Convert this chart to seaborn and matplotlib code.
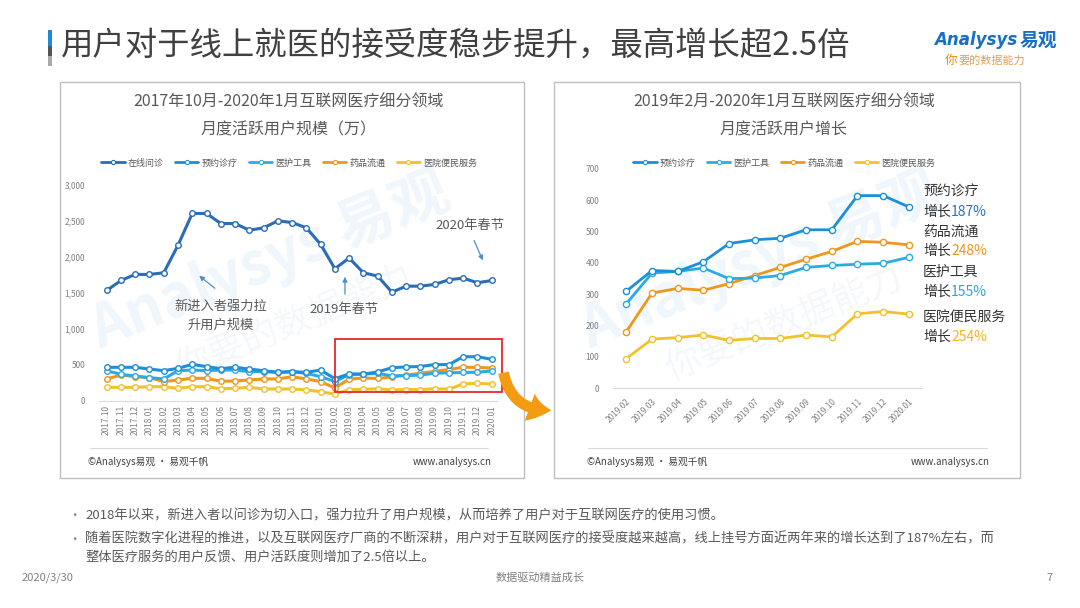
import numpy as np
import pandas as pd
import matplotlib
matplotlib.use("Agg")
import matplotlib.pyplot as plt
from matplotlib.patches import Rectangle, FancyArrowPatch
from matplotlib.lines import Line2D
from matplotlib.ticker import FuncFormatter
import seaborn as sns

sns.set_theme(style="white")
plt.rcParams["font.family"] = ["Noto Sans CJK SC", "DejaVu Sans"]
plt.rcParams["axes.unicode_minus"] = False

W, H = 1080, 608
def fx(x): return x / W
def fy(y): return 1 - y / H

# ---------- données (万) ----------
months = ["2017.10", "2017.11", "2017.12", "2018.01", "2018.02", "2018.03", "2018.04",
          "2018.05", "2018.06", "2018.07", "2018.08", "2018.09", "2018.10", "2018.11",
          "2018.12", "2019.01", "2019.02", "2019.03", "2019.04", "2019.05", "2019.06",
          "2019.07", "2019.08", "2019.09", "2019.10", "2019.11", "2019.12", "2020.01"]
online = [1535, 1674, 1758, 1758, 1781, 2163, 2605, 2605, 2465, 2465, 2372, 2405, 2502, 2479,
          2405, 2177, 1837, 1986, 1781, 1735, 1512, 1595, 1595, 1619, 1684, 1707, 1642, 1674]
appoint = [468, 468, 468, 444, 421, 454, 509, 477, 449, 468, 444, 421, 398, 407,
           398, 430, 310, 376, 373, 404, 462, 474, 479, 506, 506, 615, 615, 579]
tools = [421, 370, 347, 324, 306, 421, 430, 421, 430, 430, 407, 407, 398, 407,
         384, 338, 270, 368, 373, 384, 350, 352, 360, 386, 392, 396, 399, 418]
pharma = [306, 361, 338, 324, 269, 292, 315, 315, 274, 278, 292, 306, 306, 338,
          306, 269, 181, 304, 319, 313, 334, 360, 386, 412, 437, 469, 466, 458]
hosp = [190, 190, 190, 199, 199, 176, 199, 199, 169, 176, 190, 167, 167, 167,
        153, 130, 95, 157, 162, 170, 153, 159, 159, 170, 164, 238, 245, 237]

names = ["在线问诊", "预约诊疗", "医护工具", "药品流通", "医院便民服务"]
colors = ["#2a6cb6", "#1b8fd9", "#2aace2", "#f0961c", "#f5c12a"]
series = [online, appoint, tools, pharma, hosp]
right_start = months.index("2019.02")

growth_names = ["预约诊疗", "药品流通", "医护工具", "医院便民服务"]
growth_pct = ["187%", "248%", "155%", "254%"]
growth_colors = ["#2474c4", "#f0961c", "#2aa5de", "#f0b820"]

GREY = "#595959"

fig = plt.figure(figsize=(10.8, 6.08), dpi=100)
fig.patch.set_facecolor("white")

# ---------- titre ----------
fig.add_artist(Rectangle((fx(48), fy(46)), 4 / W, 16 / H, transform=fig.transFigure, color="#1e8ad6", lw=0))
fig.add_artist(Rectangle((fx(48), fy(56)), 4 / W, 10 / H, transform=fig.transFigure, color="#555555", lw=0))
fig.add_artist(Rectangle((fx(48), fy(66)), 4 / W, 10 / H, transform=fig.transFigure, color="#aaaaaa", lw=0))
fig.text(fx(61), fy(47), "用户对于线上就医的接受度稳步提升，最高增长超2.5倍",
         fontsize=23.3, color="#404040", va="center", ha="left")

# logo
fig.text(fx(1017), fy(40), "Analysys", fontsize=12, color="#1a6fc4", style="italic", weight="bold",
         family="DejaVu Sans", ha="right", va="center")
fig.text(fx(1020), fy(40), "易观", fontsize=13.5, color="#1a6fc4", weight="bold", ha="left", va="center")
fig.text(fx(957), fy(60), "你", fontsize=9, color="#f08c00", ha="right", va="center")
fig.text(fx(958), fy(60), "要的数据能力", fontsize=8, color="#e0a050", ha="left", va="center")

# ---------- cadres ----------
for x0, x1 in [(60, 524), (554, 1020)]:
    fig.add_artist(Rectangle((fx(x0), fy(478)), (x1 - x0) / W, (478 - 82) / H,
                             transform=fig.transFigure, fill=False, ec="#bfbfbf", lw=1))

# filigrane
for cx, cy in [(270, 262), (760, 262)]:
    fig.text(fx(cx), fy(cy), "Analysys 易观", fontsize=42, color="#f0f7fc", rotation=22,
             ha="center", va="center", zorder=-1, weight="bold")
    fig.text(fx(cx + 25), fy(cy + 62), "你要的数据能力", fontsize=26, color="#f5f8fa", rotation=22,
             ha="center", va="center", zorder=-1)

# titres des graphiques
title_kw = dict(fontsize=11.5, color="#595959", ha="center", va="center")
fig.text(fx(289), fy(102), "2017年10月-2020年1月互联网医疗细分领域", **title_kw)
fig.text(fx(289), fy(130), "月度活跃用户规模（万）", **title_kw)
fig.text(fx(784), fy(102), "2019年2月-2020年1月互联网医疗细分领域", **title_kw)
fig.text(fx(784), fy(130), "月度活跃用户增长", **title_kw)


def draw(ax, data, cols, lw, ms):
    for vals, c in reversed(list(zip(data, cols))):
        df = pd.DataFrame({"pos": np.arange(len(vals)), "v": vals})
        sns.lineplot(data=df, x="pos", y="v", ax=ax, color=c, linewidth=lw, marker="o",
                     markersize=ms, markerfacecolor="white", markeredgecolor=c,
                     markeredgewidth=1.0, zorder=3)
    for s in ["top", "right", "left"]:
        ax.spines[s].set_visible(False)
    ax.spines["bottom"].set_color("#d9d9d9")
    ax.spines["bottom"].set_linewidth(0.8)
    ax.set_facecolor("none")
    ax.set_xlabel("")
    ax.set_ylabel("")
    ax.tick_params(length=0, labelsize=6, labelcolor="#808080")


# ---------- graphique gauche ----------
axL = fig.add_axes([fx(99), fy(401), (497 - 99) / W, (401 - 185) / H])
draw(axL, series, colors, 2.2, 4)
axL.set_xlim(-0.54, 27.37)
axL.set_ylim(0, 3000)
axL.set_yticks(range(0, 3001, 500))
axL.yaxis.set_major_formatter(FuncFormatter(lambda v, p: f"{int(v):,}"))
axL.set_xticks(range(len(months)))
axL.set_xticklabels(months, rotation=90)
axL.tick_params(axis="y", pad=10)
axL.tick_params(axis="x", pad=3)
axL.add_patch(Rectangle((15.98, 121), 27.7 - 15.98, 861 - 121, fill=False, ec="#e8262b",
                        lw=1.3, clip_on=False, zorder=5))

handles = [Line2D([0], [0], color=c, lw=2, marker="o", markersize=3, mfc="white", mec=c, mew=0.8)
           for c in colors]
fig.legend(handles, names, loc="center", bbox_to_anchor=(fx(289), fy(163)), ncol=5, frameon=False,
           fontsize=6.5, handlelength=2.6, handletextpad=0.3, columnspacing=1.3, labelcolor=GREY)

# annotations
ann_col = "#4f8fc9"
fig.text(fx(221), fy(306), "新进入者强力拉", fontsize=9.5, color=GREY, ha="center", va="center")
fig.text(fx(221), fy(325), "升用户规模", fontsize=9.5, color=GREY, ha="center", va="center")
fig.text(fx(344), fy(310), "2019年春节", fontsize=9.5, color=GREY, ha="center", va="center")
fig.text(fx(470), fy(225), "2020年春节", fontsize=9.5, color=GREY, ha="center", va="center")
for (tx, ty), (hx, hy) in [((217, 290), (197, 274)), ((345, 297), (345, 274)), ((473, 238), (484, 263))]:
    fig.add_artist(FancyArrowPatch((fx(tx), fy(ty)), (fx(hx), fy(hy)), transform=fig.transFigure,
                                   arrowstyle="-|>", mutation_scale=7, color=ann_col, lw=0.9))

# flèche orange
fig.add_artist(FancyArrowPatch((fx(503), fy(370)), (fx(554), fy(410)), transform=fig.transFigure,
                               connectionstyle="arc3,rad=0.45",
                               arrowstyle="simple,head_width=1.6,head_length=1.2,tail_width=0.6",
                               mutation_scale=13, color="#f39c12", lw=0))

# ---------- graphique droit ----------
axR = fig.add_axes([fx(613), fy(388.3), (921.7 - 613) / W, (388.3 - 169) / H])
draw(axR, [s[right_start:] for s in series[1:]], colors[1:], 2.0, 4.5)
axR.set_xlim(-0.52, 11.5)
axR.set_ylim(0, 700)
axR.set_yticks(range(0, 701, 100))
axR.set_xticks(range(len(months) - right_start))
axR.set_xticklabels(months[right_start:], rotation=45, ha="right", rotation_mode="anchor")
axR.tick_params(axis="y", pad=10)
axR.tick_params(axis="x", pad=6)

fig.legend(handles[1:], names[1:], loc="center", bbox_to_anchor=(fx(784), fy(163)), ncol=4,
           frameon=False, fontsize=6.5, handlelength=2.6, handletextpad=0.3, columnspacing=1.3,
           labelcolor=GREY)

name_y = [192, 232, 272, 317]
pct_y = [212, 251, 292, 337]
for n, p, c, y1, y2 in zip(growth_names, growth_pct, growth_colors, name_y, pct_y):
    fig.text(fx(923), fy(y1), n, fontsize=10, color="#333333", ha="left", va="center")
    fig.text(fx(923), fy(y2), "增长", fontsize=10, color="#333333", ha="left", va="center")
    fig.text(fx(951), fy(y2), p, fontsize=10, color=c, ha="left", va="center")

# pieds des cadres
for x0, x1 in [(90, 488), (588, 987)]:
    fig.add_artist(Line2D([fx(x0), fx(x1)], [fy(448), fy(448)], transform=fig.transFigure,
                          color="#d9d9d9", lw=0.8))
fig.text(fx(88), fy(462), "©Analysys易观 · 易观千帆", fontsize=7, color="#404040", va="center")
fig.text(fx(492), fy(462), "www.analysys.cn", fontsize=7, color="#404040", va="center", ha="right")
fig.text(fx(587), fy(462), "©Analysys易观 · 易观千帆", fontsize=7, color="#404040", va="center")
fig.text(fx(990), fy(462), "www.analysys.cn", fontsize=7, color="#404040", va="center", ha="right")

# ---------- texte bas ----------
body = ["2018年以来，新进入者以问诊为切入口，强力拉升了用户规模，从而培养了用户对于互联网医疗的使用习惯。",
        "随着医院数字化进程的推进，以及互联网医疗厂商的不断深耕，用户对于互联网医疗的接受度越来越高，线上挂号方面近两年来的增长达到了187%左右，而",
        "整体医疗服务的用户反馈、用户活跃度则增加了2.5倍以上。"]
fig.text(fx(74), fy(516), "•", fontsize=9, color="#7f7f7f", ha="center", va="center")
fig.text(fx(74), fy(539), "•", fontsize=9, color="#7f7f7f", ha="center", va="center")
for t, y in zip(body, [516, 539, 557]):
    fig.text(fx(85), fy(y), t, fontsize=9.5, color=GREY, ha="left", va="center")

fig.text(fx(22), fy(578), "2020/3/30", fontsize=8, color="#808080", va="center")
fig.text(fx(540), fy(578), "数据驱动精益成长", fontsize=8, color="#808080", va="center", ha="center")
fig.text(fx(1050), fy(578), "7", fontsize=8, color="#808080", va="center", ha="center")

fig.savefig("out.png", dpi=100, facecolor="white")
